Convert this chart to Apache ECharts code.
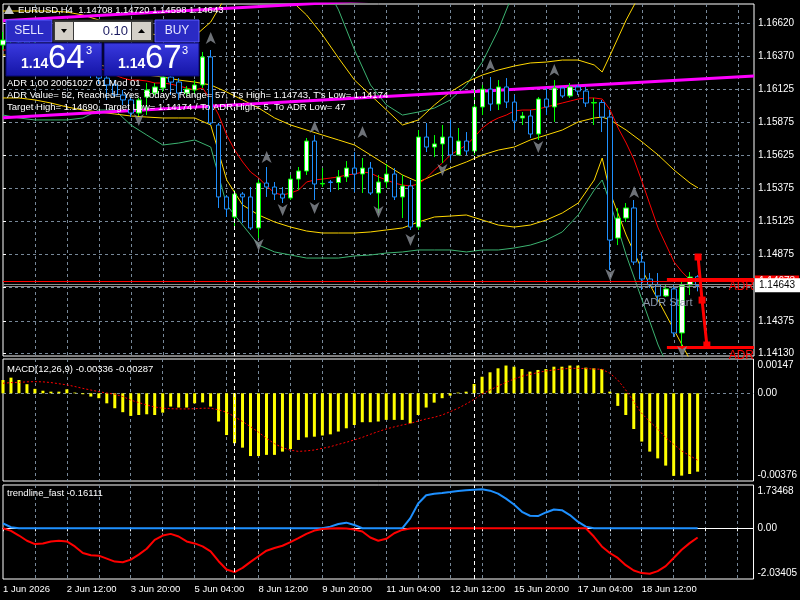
<!DOCTYPE html>
<html>
<head>
<meta charset="utf-8">
<script src="https://cdn.jsdelivr.net/npm/echarts@6/dist/echarts.min.js"></script>
<style>
  html, body { margin: 0; padding: 0; background: #000; }
  #chart { width: 800px; height: 600px; }
</style>
</head>
<body>
<div id="chart"></div>
<script>
// EURUSD H4, 1 Jun - 19 Jun 2026
const days = ['1 Jun', '2 Jun', '3 Jun', '4 Jun', '5 Jun', '8 Jun', '9 Jun', '10 Jun', '11 Jun', '12 Jun',
  '15 Jun', '16 Jun', '17 Jun', '18 Jun', '19 Jun', '22 Jun'];
const hours = ['00:00', '04:00', '08:00', '12:00', '16:00', '20:00'];

// open, close, low, high
const candles = [
  [1.16456, 1.16494, 1.16419, 1.16555], [1.16494, 1.16532, 1.16464, 1.16585], [1.16532, 1.16479, 1.16449, 1.16570],
  [1.16479, 1.16419, 1.16381, 1.16509], [1.16419, 1.16441, 1.16381, 1.16479], [1.16441, 1.16381, 1.16343, 1.16464],
  [1.16381, 1.16404, 1.16343, 1.16434], [1.16404, 1.16343, 1.16298, 1.16426], [1.16343, 1.16419, 1.16313, 1.16456],
  [1.16419, 1.16328, 1.16298, 1.16434], [1.16328, 1.16283, 1.16253, 1.16366], [1.16283, 1.16253, 1.16207, 1.16321],
  [1.16253, 1.16207, 1.16162, 1.16283], [1.16207, 1.16155, 1.16042, 1.16230], [1.16155, 1.16079, 1.16064, 1.16192],
  [1.16079, 1.16042, 1.16004, 1.16117], [1.16042, 1.15943, 1.15913, 1.16064], [1.15943, 1.16042, 1.15921, 1.16057],
  [1.16064, 1.16117, 1.15928, 1.16170], [1.16094, 1.16140, 1.16079, 1.16170], [1.16132, 1.16215, 1.16102, 1.16238],
  [1.16215, 1.16177, 1.16079, 1.16230], [1.16177, 1.16094, 1.16042, 1.16207], [1.16094, 1.16124, 1.16072, 1.16147],
  [1.16117, 1.16155, 1.16087, 1.16192], [1.16155, 1.16366, 1.16132, 1.16404], [1.16366, 1.15868, 1.15853, 1.16419],
  [1.15853, 1.15310, 1.15227, 1.15868], [1.15310, 1.15219, 1.15159, 1.15325], [1.15159, 1.15332, 1.15091, 1.15362],
  [1.15332, 1.15310, 1.15113, 1.15347], [1.15310, 1.15076, 1.15061, 1.15385], [1.15076, 1.15415, 1.15000, 1.15438],
  [1.15415, 1.15385, 1.15310, 1.15536], [1.15385, 1.15332, 1.15287, 1.15423], [1.15332, 1.15302, 1.15264, 1.15385],
  [1.15302, 1.15445, 1.15287, 1.15476], [1.15445, 1.15506, 1.15362, 1.15536], [1.15506, 1.15732, 1.15476, 1.15755],
  [1.15732, 1.15408, 1.15287, 1.15777], [1.15408, 1.15412, 1.15385, 1.15528], [1.15423, 1.15419, 1.15347, 1.15438],
  [1.15419, 1.15461, 1.15362, 1.15513], [1.15461, 1.15528, 1.15423, 1.15581], [1.15528, 1.15483, 1.15347, 1.15649],
  [1.15483, 1.15528, 1.15340, 1.15604], [1.15528, 1.15340, 1.15325, 1.15574], [1.15340, 1.15423, 1.15189, 1.15476],
  [1.15423, 1.15483, 1.15378, 1.15559], [1.15483, 1.15310, 1.15287, 1.15528], [1.15310, 1.15393, 1.15151, 1.15476],
  [1.15393, 1.15083, 1.15061, 1.15438], [1.15083, 1.15762, 1.15061, 1.15815], [1.15762, 1.15687, 1.15649, 1.15868],
  [1.15687, 1.15710, 1.15611, 1.15777], [1.15710, 1.15762, 1.15566, 1.15853], [1.15762, 1.15627, 1.15589, 1.15891],
  [1.15627, 1.15732, 1.15627, 1.15830], [1.15732, 1.15657, 1.15627, 1.15800], [1.15657, 1.15989, 1.15627, 1.16124],
  [1.15989, 1.16124, 1.15928, 1.16155], [1.16124, 1.16011, 1.15959, 1.16215], [1.16011, 1.16140, 1.15966, 1.16192],
  [1.16140, 1.16026, 1.15981, 1.16207], [1.16026, 1.15883, 1.15815, 1.16079], [1.15906, 1.15921, 1.15853, 1.15951],
  [1.15921, 1.15785, 1.15755, 1.15966], [1.15785, 1.16049, 1.15740, 1.16064], [1.16049, 1.15989, 1.15928, 1.16132],
  [1.15989, 1.16132, 1.15876, 1.16192], [1.16132, 1.16072, 1.16057, 1.16140], [1.16072, 1.16140, 1.16057, 1.16170],
  [1.16140, 1.16109, 1.16079, 1.16155], [1.16109, 1.16019, 1.15989, 1.16140], [1.16019, 1.16023, 1.15853, 1.16057],
  [1.16023, 1.15913, 1.15800, 1.16042], [1.15913, 1.14985, 1.14759, 1.15966], [1.15000, 1.15151, 1.14947, 1.15227],
  [1.15151, 1.15227, 1.15121, 1.15264], [1.15227, 1.14819, 1.14797, 1.15287], [1.14819, 1.14691, 1.14608, 1.14895],
  [1.14691, 1.14646, 1.14623, 1.14736], [1.14646, 1.14563, 1.14517, 1.14736], [1.14563, 1.14616, 1.14555, 1.14646],
  [1.14616, 1.14284, 1.14253, 1.14646], [1.14284, 1.14646, 1.14174, 1.14683], [1.14646, 1.14706, 1.14570, 1.14743],
  [1.14708, 1.14643, 1.14598, 1.14720]
];

// fast moving average (red)
const maFast = [
  1.16419, 1.16419, 1.16419, 1.16411, 1.16404, 1.16396, 1.16381, 1.16373, 1.16366, 1.16351,
  1.16328, 1.16306, 1.16283, 1.16260, 1.16230, 1.16207, 1.16192, 1.16192, 1.16185, 1.16170,
  1.16170, 1.16162, 1.16147, 1.16132, 1.16117, 1.16132, 1.16042, 1.15928, 1.15777, 1.15664,
  1.15574, 1.15498, 1.15453, 1.15393, 1.15340, 1.15325, 1.15340, 1.15362, 1.15423, 1.15438,
  1.15445, 1.15453, 1.15461, 1.15476, 1.15483, 1.15498, 1.15491, 1.15461, 1.15438, 1.15415,
  1.15400, 1.15393, 1.15408, 1.15453, 1.15513, 1.15566, 1.15627, 1.15664, 1.15702, 1.15762,
  1.15830, 1.15876, 1.15906, 1.15928, 1.15959, 1.15966, 1.15966, 1.15974, 1.15989, 1.16004,
  1.16019, 1.16034, 1.16049, 1.16057, 1.16057, 1.16049, 1.15966, 1.15830, 1.15717, 1.15589,
  1.15423, 1.15249, 1.15076, 1.14947, 1.14819, 1.14744, 1.14683, 1.14661
];

// bands read at these bars
const bandBars = [0, 2, 4, 6, 8, 10, 12, 14, 16, 18, 20, 22, 24, 26, 28, 30, 32, 34, 36, 38, 40, 42, 44, 46,
  48, 50, 52, 54, 56, 58, 60, 62, 64, 66, 68, 70, 72, 74, 75, 76, 78, 80, 82, 84, 86, 87];
const yellowUpper = [1.16713, 1.16713, 1.16713, 1.16713, 1.16705, 1.16683, 1.16645, 1.16607, 1.16570, 1.16547,
  1.16524, 1.16509, 1.16524, 1.16630, 1.16834, 1.16909, 1.16947, 1.16909, 1.16796, 1.16683,
  1.16532, 1.16358, 1.16192, 1.16079, 1.15966, 1.15853, 1.15891, 1.16004, 1.16102, 1.16177,
  1.16230, 1.16268, 1.16298, 1.16321, 1.16328, 1.16343, 1.16343, 1.16306, 1.16253, 1.16381,
  1.16645, 1.16871, 1.16947, 1.16985, 1.17022, 1.17022];
const yellowMid = [1.16381, 1.16381, 1.16381, 1.16366, 1.16343, 1.16328, 1.16306, 1.16283, 1.16253, 1.16230,
  1.16215, 1.16192, 1.16177, 1.16155, 1.16102, 1.16042, 1.15981, 1.15906, 1.15853, 1.15815,
  1.15777, 1.15740, 1.15702, 1.15627, 1.15551, 1.15476, 1.15423, 1.15476, 1.15528, 1.15574,
  1.15627, 1.15664, 1.15687, 1.15740, 1.15777, 1.15815, 1.15876, 1.15906, 1.15913, 1.15891,
  1.15815, 1.15725, 1.15627, 1.15513, 1.15415, 1.15378];
const yellowLower = [1.16057, 1.16057, 1.16042, 1.16019, 1.15989, 1.15966, 1.15951, 1.15936, 1.15921, 1.15913,
  1.15906, 1.15906, 1.15906, 1.15853, 1.15438, 1.15249, 1.15174, 1.15121, 1.15083, 1.15053,
  1.15038, 1.15038, 1.15038, 1.15046, 1.15061, 1.15076, 1.15121, 1.15159, 1.15166, 1.15174,
  1.15136, 1.15098, 1.15083, 1.15098, 1.15136, 1.15189, 1.15264, 1.15438, 1.15604, 1.15340,
  1.15023, 1.14759, 1.14532, 1.14306, 1.14080, 1.14042];
const greenUpper = [1.17098, 1.17098, 1.17098, 1.17098, 1.17098, 1.17098, 1.17098, 1.17098, 1.17098, 1.17098,
  1.17098, 1.17098, 1.17098, 1.17098, 1.17098, 1.17098, 1.17098, 1.17098, 1.17098, 1.17098,
  1.16947, 1.16721, 1.16419, 1.16155, 1.16004, 1.15928, 1.15951, 1.15981, 1.16042, 1.16155,
  1.16328, 1.16570, 1.16871, 1.17022, 1.17098, 1.17098, 1.17098, 1.17098, 1.17098, 1.17098,
  1.17098, 1.17098, 1.17098, 1.17098, 1.17098, 1.17098];
const greenLower = [1.15928, 1.15906, 1.15891, 1.15891, 1.15891, 1.15906, 1.15966, 1.15966, 1.15853, 1.15777,
  1.15702, 1.15717, 1.15740, 1.15687, 1.15249, 1.15098, 1.14947, 1.14895, 1.14872, 1.14849,
  1.14849, 1.14849, 1.14865, 1.14872, 1.14887, 1.14895, 1.14910, 1.14910, 1.14910, 1.14895,
  1.14910, 1.14910, 1.14925, 1.14947, 1.14985, 1.15046, 1.15174, 1.15362, 1.15438, 1.15264,
  1.14872, 1.14532, 1.14193, 1.13929, 1.13778, 1.13740];

// channel trendlines (bar, price)
const channelTop = [[0, 1.16639], [94, 1.16954]];
const channelBottom = [[0, 1.15907], [94, 1.16223]];

// fractals (bar, price)
const fractalUp = [[26, 1.16509], [33, 1.15611], [39, 1.15838], [45, 1.15800], [61, 1.16306], [69, 1.16268], [79, 1.15347]];
const fractalDown = [[17, 1.15891], [32, 1.14947], [35, 1.15212], [39, 1.15227], [47, 1.15196], [51, 1.14985],
  [55, 1.15513], [67, 1.15687], [76, 1.14721], [85, 1.14140]];

// ADR
const adrHigh = 1.14690, adrLow = 1.14174, adrStartBar = 83.1;
const adrPath = [[87, 1.14857], [87.5, 1.14532], [88.1, 1.14193]];
const bid = 1.14643, ask = 1.14673;
const bidLines = [1.14651, 1.14636];

const priceTicks = [1.14130, 1.14375, 1.14625, 1.14875, 1.15125, 1.15375, 1.15625, 1.15875, 1.16125, 1.16370, 1.16620];
const priceLabels = [1.14130, 1.14375, 1.14875, 1.15125, 1.15375, 1.15625, 1.15875, 1.16125, 1.16370, 1.16620];

// MACD(12,26,9)
const macdMain = [
  0.00057, 0.00067, 0.00057, 0.00039, 0.00019, 0.00011, 0.00007, 0.00007, 0.00017, 0.00003,
  -0.00004, -0.00014, -0.00021, -0.00043, -0.00064, -0.00081, -0.00097, -0.00093, -0.00090, -0.00093,
  -0.00083, -0.00057, -0.00061, -0.00061, -0.00043, -0.00039, -0.00057, -0.00121, -0.00179, -0.00214,
  -0.00233, -0.00269, -0.00269, -0.00264, -0.00264, -0.00250, -0.00239, -0.00200, -0.00189, -0.00186,
  -0.00181, -0.00176, -0.00164, -0.00150, -0.00136, -0.00124, -0.00124, -0.00121, -0.00114, -0.00114,
  -0.00114, -0.00129, -0.00093, -0.00061, -0.00040, -0.00021, -0.00010, 0.00003, 0.00007, 0.00040,
  0.00071, 0.00090, 0.00107, 0.00119, 0.00114, 0.00104, 0.00093, 0.00100, 0.00104, 0.00114,
  0.00114, 0.00119, 0.00119, 0.00110, 0.00107, 0.00104, 0.00007, -0.00054, -0.00093, -0.00153,
  -0.00207, -0.00250, -0.00279, -0.00310, -0.00354, -0.00353, -0.00346, -0.00336
];
const macdSignal = [
  0.00043, 0.00046, 0.00047, 0.00049, 0.00050, 0.00049, 0.00046, 0.00041, 0.00036, 0.00029,
  0.00021, 0.00014, 0.00007, 0.00001, -0.00004, -0.00014, -0.00029, -0.00040, -0.00050, -0.00059,
  -0.00064, -0.00066, -0.00067, -0.00067, -0.00066, -0.00064, -0.00064, -0.00071, -0.00081, -0.00100,
  -0.00121, -0.00143, -0.00167, -0.00193, -0.00216, -0.00233, -0.00244, -0.00249, -0.00247, -0.00243,
  -0.00236, -0.00229, -0.00219, -0.00210, -0.00200, -0.00189, -0.00176, -0.00164, -0.00153, -0.00144,
  -0.00136, -0.00129, -0.00119, -0.00110, -0.00103, -0.00093, -0.00079, -0.00064, -0.00046, -0.00026,
  -0.00003, 0.00014, 0.00031, 0.00047, 0.00061, 0.00073, 0.00081, 0.00089, 0.00096, 0.00100,
  0.00104, 0.00107, 0.00107, 0.00106, 0.00104, 0.00103, 0.00086, 0.00057, 0.00014, -0.00036,
  -0.00086, -0.00121, -0.00153, -0.00190, -0.00219, -0.00247, -0.00267, -0.00287
];

// trendline_fast
const trendUp = [
  0.198, 0.040, 0, 0, 0, 0, 0, 0, 0, 0, 0, 0, 0, 0, 0, 0, 0, 0, 0, 0,
  0, 0, 0, 0, 0, 0, 0, 0, 0, 0, 0, 0, 0, 0, 0, 0, 0, 0, 0, 0,
  0, 0.066, 0.172, 0.225, 0.132, 0, 0, 0, 0, 0, 0, 0.397, 0.991, 1.322, 1.388, 1.415, 1.454, 1.494, 1.520, 1.547,
  1.560, 1.507, 1.388, 1.190, 0.952, 0.661, 0.502, 0.489, 0.634, 0.754, 0.727, 0.529, 0.264, 0.066, 0, 0, 0, 0, 0, 0,
  0, 0, 0, 0, 0, 0, 0, 0
];
const trendDown = [
  0, -0.106, -0.291, -0.502, -0.635, -0.608, -0.529, -0.502, -0.529, -0.727,
  -0.992, -1.084, -1.097, -1.216, -1.335, -1.362, -1.256, -1.058, -0.820, -0.463,
  -0.291, -0.225, -0.331, -0.529, -0.608, -0.727, -0.925, -1.322, -1.653, -1.758,
  -1.586, -1.348, -1.124, -0.899, -0.793, -0.701, -0.555, -0.397, -0.225, -0.093,
  -0.026, -0.013, 0, -0.013, -0.053, -0.132, -0.370, -0.502, -0.423, -0.198,
  -0.066, -0.013, 0, 0, 0, 0, 0, 0, 0, 0, 0, 0, 0, 0, 0, 0, 0, 0, 0, 0,
  0, 0, 0, 0, -0.331, -0.727, -0.992, -1.190, -1.481, -1.692, -1.798, -1.824, -1.719, -1.520,
  -1.190, -0.859, -0.595, -0.370
];

const weekStarts = [29, 59];
const lastLabelBar = 80;

const categories = [];
for (let i = 1; i <= 95; i++) categories.push(days[Math.floor(i / 6)] + ' ' + hours[i % 6]);

const FONT = "'Liberation Sans', Arial, sans-serif";
const GRIDC = '#778899';
const X0 = 3, W = 751;

const chart = echarts.init(document.getElementById('chart'));

function catAxis(grid, showLabels) {
  return {
    type: 'category', gridIndex: grid, data: categories, boundaryGap: false,
    axisLine: { show: showLabels, lineStyle: { color: '#fff' } },
    axisTick: { show: showLabels, interval: i => i % 4 === 0, length: 3, lineStyle: { color: '#fff' } },
    axisLabel: {
      show: showLabels, interval: i => i % 8 === 0 && i <= lastLabelBar, align: 'left', color: '#fff',
      fontFamily: FONT, fontSize: 9.5, margin: 5,
      formatter: (v, i) => i === 0 ? '1 Jun 2026' : v
    },
    splitLine: { show: true, interval: i => i % 4 === 0 && i > 0, lineStyle: { color: GRIDC, type: [3, 3] } }
  };
}

function sepLines() {
  return {
    silent: true, symbol: 'none', label: { show: false },
    lineStyle: { color: '#fff', type: [4, 3], width: 1 },
    data: weekStarts.map(b => ({ xAxis: b }))
  };
}

function edgeLabel(v, max, min, digits) {
  const s = v.toFixed(digits);
  if (Math.abs(v - max) < 1e-9) return '\n' + s;
  if (Math.abs(v - min) < 1e-9) return s + '\n';
  return '0.00';
}

const macdMax = 0.00147, macdMin = -0.00376;
const trMax = 1.73468, trMin = -2.03405;

const lbl = { color: '#fff', fontFamily: FONT, fontSize: 10, margin: 4 };
const tck = { length: 3, lineStyle: { color: '#fff' } };

function txt(x, y, s, color, size, extra) {
  return Object.assign({
    type: 'text', x: x, y: y, z: 100,
    style: { text: s, fill: color, font: (size || 9.5) + 'px ' + FONT, verticalAlign: 'middle' }
  }, extra || {});
}

const blueGrad = { type: 'linear', x: 0, y: 0, x2: 0, y2: 1,
  colorStops: [{ offset: 0, color: '#3a3ae0' }, { offset: 1, color: '#1414a6' }] };

const option = {
  backgroundColor: '#000',
  animation: false,
  grid: [
    { left: X0, top: 4, width: W, height: 352, show: true, borderColor: '#fff', borderWidth: 1, backgroundColor: 'transparent' },
    { left: X0, top: 359, width: W, height: 122, show: true, borderColor: '#fff', borderWidth: 1, backgroundColor: 'transparent' },
    { left: X0, top: 485, width: W, height: 94, show: true, borderColor: '#fff', borderWidth: 1, backgroundColor: 'transparent' }
  ],
  xAxis: [
    catAxis(0, false), catAxis(1, false), catAxis(2, true),
    { type: 'value', gridIndex: 0, min: 0, max: 94, show: false }
  ],
  yAxis: [
    {
      type: 'value', gridIndex: 0, position: 'right', min: 1.14110, max: 1.16766, scale: true,
      axisLine: { show: false },
      axisTick: Object.assign({ customValues: priceTicks }, tck),
      axisLabel: Object.assign({ customValues: priceLabels, formatter: v => v.toFixed(5) }, lbl),
      splitLine: { show: true, lineStyle: { color: GRIDC, type: [3, 3] } }
    },
    {
      type: 'value', gridIndex: 1, position: 'right', min: macdMin, max: macdMax,
      axisLine: { show: false },
      axisTick: Object.assign({ customValues: [0] }, tck),
      axisLabel: Object.assign({ customValues: [macdMin, 0, macdMax], lineHeight: 12,
        formatter: v => edgeLabel(v, macdMax, macdMin, 5) }, lbl),
      splitLine: { show: true, lineStyle: { color: GRIDC, type: [3, 3] } }
    },
    {
      type: 'value', gridIndex: 2, position: 'right', min: trMin, max: trMax,
      axisLine: { show: false },
      axisTick: Object.assign({ customValues: [0] }, tck),
      axisLabel: Object.assign({ customValues: [trMin, 0, trMax], lineHeight: 12,
        formatter: v => edgeLabel(v, trMax, trMin, 5) }, lbl),
      splitLine: { show: true, lineStyle: { color: GRIDC, type: [3, 3] } }
    }
  ],
  series: [
    {
      type: 'line', xAxisIndex: 3, yAxisIndex: 0, data: channelTop, symbol: 'none',
      lineStyle: { color: '#ff00ff', width: 3 }, z: 3
    },
    {
      type: 'line', xAxisIndex: 3, yAxisIndex: 0, data: channelBottom, symbol: 'none',
      lineStyle: { color: '#ff00ff', width: 3 }, z: 3
    },
    ...[[greenUpper, '#3cb371'], [greenLower, '#3cb371'], [yellowUpper, '#ffd700'], [yellowMid, '#ffd700'], [yellowLower, '#ffd700']]
      .map(([vals, col]) => ({
        type: 'line', xAxisIndex: 0, yAxisIndex: 0, symbol: 'none', z: 2,
        data: vals.map((v, i) => [bandBars[i], v]),
        lineStyle: { color: col, width: 1 }
      })),
    {
      type: 'line', xAxisIndex: 0, yAxisIndex: 0, symbol: 'none', data: maFast, z: 2,
      lineStyle: { color: '#ff0000', width: 1 }
    },
    {
      type: 'candlestick', xAxisIndex: 0, yAxisIndex: 0, data: candles, barWidth: 5, z: 4,
      itemStyle: { color: '#ffffff', color0: '#000000', borderColor: '#00ff00', borderColor0: '#1e90ff', borderWidth: 1 },
      markLine: {
        silent: true, symbol: 'none', precision: 5,
        data: [
          ...bidLines.map(v => ({ yAxis: v, lineStyle: { color: '#8c8c8c', width: 1, type: 'solid' }, label: { show: false } })),
          { yAxis: ask, lineStyle: { color: '#ff0000', width: 1, type: 'solid' },
            label: { show: true, position: 'end', distance: 1, formatter: ask.toFixed(5), color: '#fff',
              backgroundColor: '#ff0000', padding: [1, 4, 1, 4], fontFamily: FONT, fontSize: 10 } },
          { yAxis: bid, lineStyle: { color: 'rgba(0,0,0,0)', width: 1, type: 'solid' },
            label: { show: true, position: 'end', distance: 1, formatter: bid.toFixed(5), color: '#000',
              backgroundColor: '#ffffff', padding: [2, 8, 2, 4], fontFamily: FONT, fontSize: 10 } },
          ...weekStarts.map(b => ({ xAxis: b, lineStyle: { color: '#fff', type: [4, 3], width: 1 }, label: { show: false } }))
        ]
      }
    },
    {
      type: 'scatter', xAxisIndex: 0, yAxisIndex: 0, data: fractalUp, z: 5,
      symbol: 'path://M5,0 L10,11 L5,8 L0,11 Z', symbolSize: [10, 12],
      itemStyle: { color: '#8a8f96' }
    },
    {
      type: 'scatter', xAxisIndex: 0, yAxisIndex: 0, data: fractalDown, z: 5,
      symbol: 'path://M0,0 L5,3 L10,0 L5,11 Z', symbolSize: [10, 12],
      itemStyle: { color: '#8a8f96' }
    },
    {
      type: 'line', xAxisIndex: 3, yAxisIndex: 0, data: adrPath, z: 6,
      symbol: 'rect', symbolSize: 7, itemStyle: { color: '#ff0000' },
      lineStyle: { color: '#ff0000', width: 3 },
      markLine: {
        silent: true, symbol: 'none',
        lineStyle: { color: '#ff0000', width: 3, type: 'solid' },
        label: { show: true, position: 'insideEndBottom', formatter: 'ADR', color: '#ff0000',
          fontFamily: FONT, fontSize: 12, distance: [0, 2] },
        data: [
          [{ coord: [adrStartBar, adrHigh] }, { coord: [94, adrHigh] }],
          [{ coord: [adrStartBar, adrLow] }, { coord: [94, adrLow] }]
        ]
      }
    },
    {
      type: 'bar', xAxisIndex: 1, yAxisIndex: 1, data: macdMain, barWidth: 3,
      itemStyle: { color: '#ffff00' }, markLine: sepLines()
    },
    {
      type: 'line', xAxisIndex: 1, yAxisIndex: 1, data: macdSignal, symbol: 'none',
      lineStyle: { color: '#ff0000', width: 1, type: [2, 2] }
    },
    {
      type: 'line', xAxisIndex: 2, yAxisIndex: 2, data: trendUp, symbol: 'none',
      lineStyle: { color: '#1e90ff', width: 2 }, markLine: sepLines()
    },
    {
      type: 'line', xAxisIndex: 2, yAxisIndex: 2, data: trendDown, symbol: 'none',
      lineStyle: { color: '#ff0000', width: 2 }
    }
  ],
  graphic: [
    { type: 'polygon', z: 100, shape: { points: [[4, 14], [9, 5], [14, 14]] }, style: { fill: '#c8c8c8' } },
    txt(18, 10, 'EURUSD,H4  1.14708 1.14720 1.14598 1.14643', '#fff', 9.5),
    // one-click trading panel
    { type: 'rect', z: 100, shape: { x: 6, y: 20, width: 46, height: 22 }, style: { fill: '#2a2ac4', stroke: '#5a5aff' } },
    txt(29, 31, 'SELL', '#e6e6ff', 12, { style: { text: 'SELL', fill: '#e6e6ff', font: '12px ' + FONT, align: 'center', verticalAlign: 'middle' } }),
    { type: 'rect', z: 100, shape: { x: 53, y: 20, width: 100, height: 22 }, style: { fill: '#3a3a3a', stroke: '#222' } },
    { type: 'rect', z: 100, shape: { x: 55, y: 22, width: 18, height: 18 }, style: { fill: '#d4d0c8' } },
    { type: 'polygon', z: 101, shape: { points: [[61, 29], [67, 29], [64, 33]] }, style: { fill: '#000' } },
    { type: 'rect', z: 100, shape: { x: 74, y: 22, width: 57, height: 18 }, style: { fill: '#fff' } },
    txt(128, 31, '0.10', '#1a1a60', 13, { style: { text: '0.10', fill: '#1a1a60', font: '13px ' + FONT, align: 'right', verticalAlign: 'middle' } }),
    { type: 'rect', z: 100, shape: { x: 132, y: 22, width: 19, height: 18 }, style: { fill: '#d4d0c8' } },
    { type: 'polygon', z: 101, shape: { points: [[138, 33], [145, 33], [141.5, 29]] }, style: { fill: '#000' } },
    { type: 'rect', z: 100, shape: { x: 155, y: 20, width: 44, height: 22 }, style: { fill: '#2a2ac4', stroke: '#5a5aff' } },
    txt(177, 31, 'BUY', '#e6e6ff', 12, { style: { text: 'BUY', fill: '#e6e6ff', font: '12px ' + FONT, align: 'center', verticalAlign: 'middle' } }),
    { type: 'rect', z: 100, shape: { x: 6, y: 43, width: 96, height: 33 }, style: { fill: blueGrad, stroke: '#0a0a70' } },
    { type: 'rect', z: 100, shape: { x: 104, y: 43, width: 95, height: 33 }, style: { fill: blueGrad, stroke: '#0a0a70' } },
    txt(21, 64, '1.14', '#fff', 14, { style: { text: '1.14', fill: '#fff', font: 'bold 14px ' + FONT, verticalAlign: 'middle' } }),
    txt(48, 59, '64', '#fff', 33, { style: { text: '64', fill: '#fff', font: '33px ' + FONT, verticalAlign: 'middle' } }),
    txt(86, 51, '3', '#fff', 11),
    txt(118, 64, '1.14', '#fff', 14, { style: { text: '1.14', fill: '#fff', font: 'bold 14px ' + FONT, verticalAlign: 'middle' } }),
    txt(145, 59, '67', '#fff', 33, { style: { text: '67', fill: '#fff', font: '33px ' + FONT, verticalAlign: 'middle' } }),
    txt(182, 51, '3', '#fff', 11),
    // ADR info
    txt(7, 83, 'ADR 1,00 20051027 01 Mod 01', '#fff'),
    txt(7, 95, "ADR Value= 52, Reached= Yes, Today's Range= 57, T's High= 1.14743, T's Low= 1.14174", '#fff'),
    txt(7, 107, 'Target High= 1.14690, Target Low= 1.14174 / To ADR High= 5, To ADR Low= 47', '#fff'),
    txt(643, 303, 'ADR Start', '#8a97a8', 11),
    txt(7, 369, 'MACD(12,26,9) -0.00336 -0.00287', '#fff'),
    txt(7, 493, 'trendline_fast -0.16111', '#fff')
  ]
};

chart.setOption(option);
</script>
</body>
</html>
